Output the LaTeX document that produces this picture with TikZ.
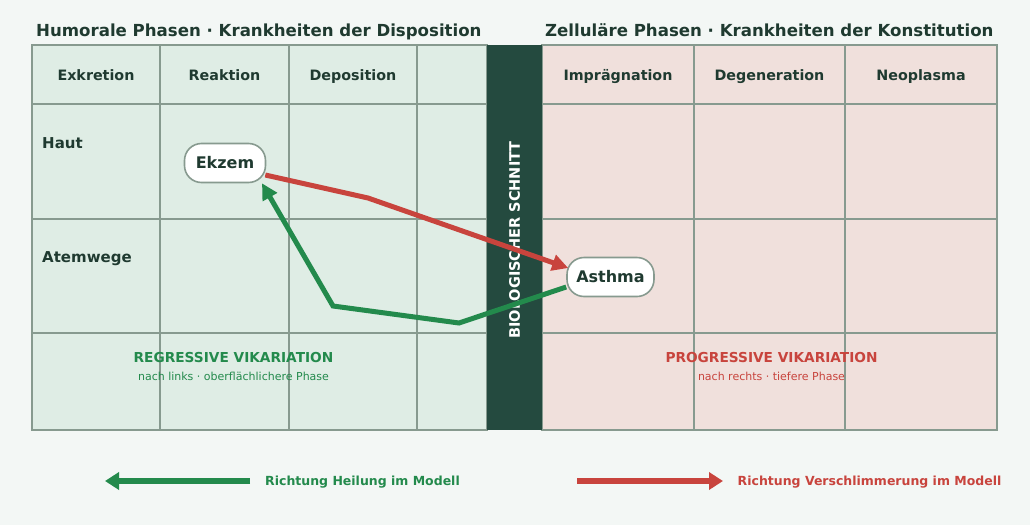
\documentclass[tikz,border=0pt]{standalone}
\usepackage{fontspec}
\setmainfont{DejaVu Sans}
\usetikzlibrary{arrows.meta,calc}
\definecolor{bgc}{HTML}{F3F7F5}
\definecolor{greenpanel}{HTML}{DFEDE5}
\definecolor{redpanel}{HTML}{F0E0DC}
\definecolor{gridc}{HTML}{879A8F}
\definecolor{bandc}{HTML}{244A3F}
\definecolor{darktext}{HTML}{1F3A30}
\definecolor{greenc}{HTML}{238A4C}
\definecolor{redc}{HTML}{C8443D}
\tikzset{
  gridline/.style={draw=gridc, line width=2pt},
  titletext/.style={anchor=base west, inner sep=0pt, text=darktext, font=\fontsize{16.6}{20}\selectfont\bfseries},
  headtext/.style={anchor=base, inner sep=0pt, text=darktext, font=\fontsize{14.3}{17}\selectfont\bfseries},
  rowtext/.style={anchor=base west, inner sep=0pt, text=darktext, font=\fontsize{15}{18}\selectfont\bfseries},
  disease/.style={draw=gridc, line width=1.6pt, fill=white, rounded corners=17pt, minimum height=39pt, inner sep=0pt, text=darktext, font=\fontsize{16}{19}\selectfont\bfseries},
  vikhead/.style={anchor=base, inner sep=0pt, font=\fontsize{13.7}{16}\selectfont\bfseries},
  viksub/.style={anchor=base, inner sep=0pt, font=\fontsize{11}{13}\selectfont},
  legendtext/.style={anchor=base west, inner sep=0pt, font=\fontsize{12.5}{15}\selectfont\bfseries},
  pathline/.style={line width=5pt, line join=miter},
  tipbig/.style={-{Triangle[length=16pt,width=16pt]}},
  legendarrow/.style={line width=5.5pt, -{Triangle[length=14pt,width=17pt]}}
}
\begin{document}
\begin{tikzpicture}[x=1pt,y=-1pt]
\useasboundingbox (0,0) rectangle (1030,525);
\fill[bgc] (0,0) rectangle (1030,525);
% panels
\fill[greenpanel] (32,45) rectangle (487,430);
\fill[redpanel] (542,45) rectangle (997,430);
% grid lines
\foreach \y in {104,219,333} {
  \draw[gridline] (32,\y) -- (487,\y);
  \draw[gridline] (542,\y) -- (997,\y);
}
\foreach \x in {160,289,417} \draw[gridline] (\x,45) -- (\x,430);
\foreach \x in {694,845} \draw[gridline] (\x,45) -- (\x,430);
\draw[gridline] (32,45) rectangle (487,430);
\draw[gridline] (542,45) rectangle (997,430);
% band
\fill[bandc] (487,45) rectangle (542,430);
\node[rotate=90, text=white, inner sep=0pt, font=\fontsize{14.5}{17}\selectfont\bfseries] (band) at (514.5,240) {BIOLOGISCHER SCHNITT};
% titles
\node[titletext] (t1) at (36,36) {Humorale Phasen · Krankheiten der Disposition};
\node[titletext] (t2) at (545,36) {Zelluläre Phasen · Krankheiten der Konstitution};
% headers
\node[headtext] (h1) at (96,80.5) {Exkretion};
\node[headtext] (h2) at (224.5,80.5) {Reaktion};
\node[headtext] (h3) at (353,80.5) {Deposition};
\node[headtext] (h4) at (618,80.5) {Imprägnation};
\node[headtext] (h5) at (769.5,80.5) {Degeneration};
\node[headtext] (h6) at (921,80.5) {Neoplasma};
% row labels
\node[rowtext] (r1) at (42,148.3) {Haut};
\node[rowtext] (r2) at (42,262.6) {Atemwege};
% vikariation texts
\node[vikhead, text=greenc] (rv) at (233.5,362.6) {REGRESSIVE VIKARIATION};
\node[viksub, text=greenc] (rvs) at (233.5,380) {nach links · oberflächlichere Phase};
\node[vikhead, text=redc] (pv) at (771.5,362.6) {PROGRESSIVE VIKARIATION};
\node[viksub, text=redc] (pvs) at (771.5,380) {nach rechts · tiefere Phase};
% disease nodes
\node[disease, minimum width=81pt] (ekzem) at (225,163) {Ekzem};
\node[disease, minimum width=87pt] (asthma) at (610.5,277) {Asthma};
% paths
\coordinate (rb) at (368,198);
\coordinate (gb1) at (459,323);
\coordinate (gb2) at (333,306);
\draw[pathline, redc, tipbig] ($(ekzem.east)+(-1,12)$) -- (rb) -- ($(asthma.west)+(2,-9)$);
\draw[pathline, greenc, tipbig] ($(asthma.west)+(0,10)$) -- (gb1) -- (gb2) -- ($(ekzem.south)+(37,0)$);
% legend
\coordinate (lgs) at (250,481);
\coordinate (lge) at (105,481);
\coordinate (lrs) at (577,481);
\coordinate (lre) at (723,481);
\draw[legendarrow, greenc] (lgs) -- (lge);
\draw[legendarrow, redc] (lrs) -- (lre);
\node[legendtext, text=greenc] (lgt) at (265,485.5) {Richtung Heilung im Modell};
\node[legendtext, text=redc] (lrt) at (737.5,485.5) {Richtung Verschlimmerung im Modell};
\end{tikzpicture}
\end{document}
